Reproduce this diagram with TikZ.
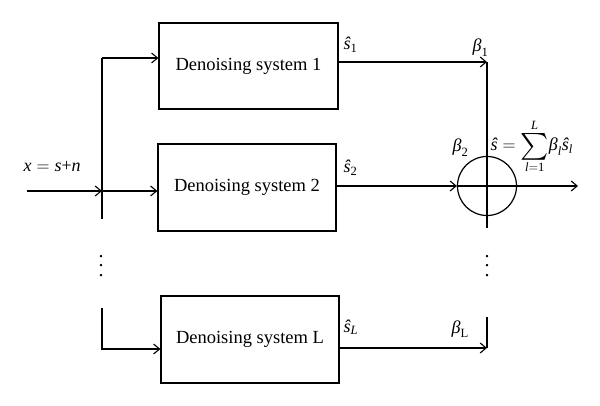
\RequirePackage{fix-cm}
\documentclass[tikz,border=0pt]{standalone}
\usepackage{amsmath}
\usepackage{graphicx}
\usepackage{fontspec}
\setmainfont{Liberation Serif}
\usetikzlibrary{arrows.meta}
\newcommand\mv[1]{\text{\itshape #1}}
\newcommand\bigsum{\mathop{\vcenter{\hbox{\scalebox{1.55}{$\sum$}}}}}
\newcommand\mydots{\vbox{\baselineskip=9.5pt\lineskiplimit=-10pt\hbox{.}\hbox{.}\hbox{.}}}
\begin{document}
\begin{tikzpicture}[x=1pt,y=-1pt,
  line width=1.2pt,
  sysbox/.style={draw, rectangle, inner sep=0pt, font=\fontsize{18.5}{22}\selectfont},
  arr/.style={-{Straight Barb[length=6pt,width=10pt,line width=1.1pt]}},
  lbl/.style={font=\fontsize{18}{21}\selectfont, inner sep=0pt, anchor=base west},
  dotslbl/.style={font=\fontsize{20}{24}\selectfont, inner sep=0pt}]
\useasboundingbox (0,0) rectangle (600,406);
% boxes
\node[sysbox, minimum width=179pt, minimum height=86pt] (b1) at (248.5,66) {Denoising system 1};
\node[sysbox, minimum width=178pt, minimum height=87pt] (b2) at (247,187.5) {Denoising system 2};
\node[sysbox, minimum width=178pt, minimum height=87pt] (bL) at (250,339.5) {Denoising system L};
% sum circle
\node[draw, circle, minimum size=59pt, inner sep=0pt] (sum) at (487,186) {};
% coordinates
\coordinate (in) at (27,191);
\coordinate (split) at (102,191);
\coordinate (vtop) at (102,58);
\coordinate (vbot) at (102,219);
\coordinate (vLtop) at (102,308);
\coordinate (vLbot) at (102,349);
\coordinate (c1) at (487,62);
\coordinate (cL) at (487,348);
\coordinate (cLtop) at (487,317);
\coordinate (sumbot) at (487,228);
\coordinate (out) at (578,186);
% input side
\draw[arr] (in) -- (split);
\draw (vtop) -- (vbot);
\draw[arr] (vtop) -- (b1.west |- vtop);
\draw[arr] (split) -- (b2.west |- split);
\draw[arr] (vLtop) -- (vLbot) -- (bL.west |- vLbot);
% output side
\draw[arr] (b1.east |- c1) -- (c1);
\draw (c1) -- (sum.north) -- (sumbot);
\draw[arr] (b2.east |- sum) -- (sum.west);
\draw[arr] (sum.west) -- (out);
\draw[arr] (bL.east |- cL) -- (cL);
\draw (cLtop) -- (cL);
% dots
\node[dotslbl] (d1) at (101,266) {\mydots};
\node[dotslbl] (d2) at (487,266) {\mydots};
% labels
\node[lbl] (x) at (23,172) {$\mv{x} = \mv{s}\text{+}\mv{n}$};
\node[lbl] (s1) at (343,50) {$\mv{ŝ}_{\text{1}}$};
\node[lbl] (s2) at (343,173) {$\mv{ŝ}_{\text{2}}$};
\node[lbl] (sL) at (343,332) {$\mv{ŝ}_{\mv{L}}$};
\node[lbl] (be1) at (472,52) {$\mv{β}_{\text{1}}$};
\node[lbl] (be2) at (452,152) {$\mv{β}_{\text{2}}$};
\node[lbl] (beL) at (451,333) {$\mv{β}_{\text{L}}$};
\node[lbl] (sumlbl) at (490,151) {$\mv{ŝ} = \bigsum\limits_{\mv{l}=\text{1}}^{\mv{L}}\!\mv{β}_{\mv{l}}\mv{ŝ}_{\mv{l}}$};
\end{tikzpicture}
\end{document}
